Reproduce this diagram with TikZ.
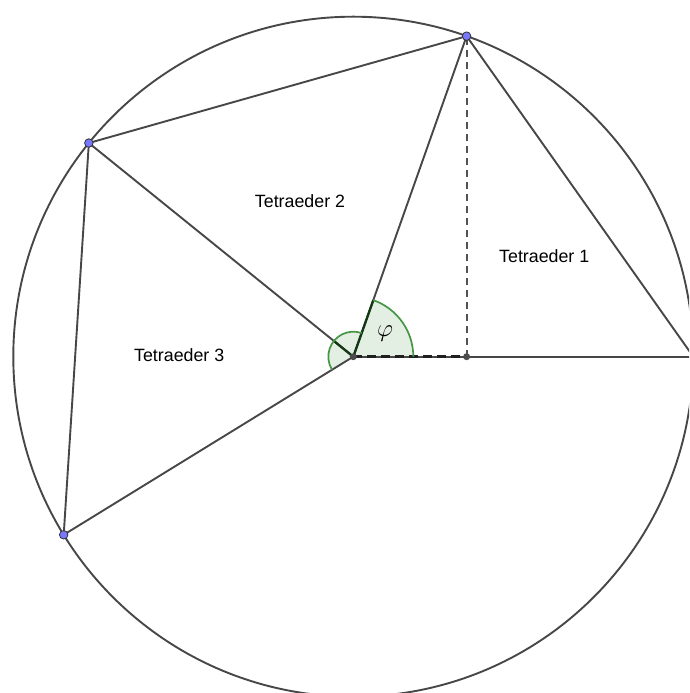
\documentclass[tikz,border=0pt]{standalone}
\usepackage{fontspec}
\setmainfont{Liberation Sans}
\definecolor{angfill}{RGB}{228,239,228}
\definecolor{angline}{RGB}{70,150,70}
\begin{document}
\begin{tikzpicture}[x=1pt,y=1pt,
  edge/.style={draw=black!72, line width=1.9pt},
  helper/.style={draw=black!68, line width=1.9pt, dash pattern=on 7pt off 5pt},
  radial/.style={draw=black!88, line width=3pt, dash pattern=on 9pt off 5pt},
  anglefill/.style={fill=angfill},
  anglearc/.style={draw=angline, line width=1.7pt},
  inner/.style={draw=green!15!black!92, line width=2.3pt},
  bluept/.style={circle, fill={rgb,255:red,120;green,120;blue,255}, draw=black!80, line width=0.8pt, minimum size=8.5pt, inner sep=0pt},
  greypt/.style={circle, fill=black!70, minimum size=7pt, inner sep=0pt},
  lbl/.style={font=\fontsize{17.8}{20}\selectfont, inner sep=0pt}]
\useasboundingbox (0,0) rectangle (689,693);
\begin{scope}
\clip (0,0) rectangle (689,693);
\coordinate (C) at (353.3,336.3);
\path (C) ++(0:340) coordinate (P0);
\path (C) ++(70.53:340) coordinate (P1);
\path (C) ++(141.06:340) coordinate (P2);
\path (C) ++(211.59:340) coordinate (P3);
\coordinate (F) at (P1 |- C);
% angle fills
\fill[anglefill] (C) -- ++(70.53:25) arc[start angle=70.53, end angle=211.59, radius=25] -- cycle;
\fill[anglefill] (C) -- ++(0:60) arc[start angle=0, end angle=70.53, radius=60] -- cycle;
% circle
\draw[edge] (C) circle[radius=340];
% edges
\draw[edge] (P0) -- (P1) -- (P2) -- (P3);
\draw[edge] (C) -- (P1);
\draw[edge] (C) -- (P2);
\draw[edge] (C) -- (P3);
\draw[edge] (C) -- (P0);
\draw[helper] (F) -- (P1);
\draw[radial] (C) -- (F);
% darker parts inside angles
\draw[inner] (C) -- ++(70.53:60);
\draw[inner] (C) -- ++(141.06:25);
% angle arcs
\draw[anglearc] (C) ++(70.53:25) arc[start angle=70.53, end angle=211.59, radius=25];
\draw[anglearc] (C) ++(0:60) arc[start angle=0, end angle=70.53, radius=60];
% points
\node[greypt] (c) at (C) {};
\node[greypt] (f) at (F) {};
\node[bluept] (p1) at (P1) {};
\node[bluept] (p2) at (P2) {};
\node[bluept] (p3) at (P3) {};
% labels
\node[lbl] (t1) at (544.2,437.3) {Tetraeder 1};
\node[lbl] (t2) at (300,492.3) {Tetraeder 2};
\node[lbl] (t3) at (179.2,338) {Tetraeder 3};
\node[inner sep=0pt, font=\fontsize{28}{30}\selectfont] (phi) at (385,359.7) {$\varphi$};
\end{scope}
\end{tikzpicture}
\end{document}
